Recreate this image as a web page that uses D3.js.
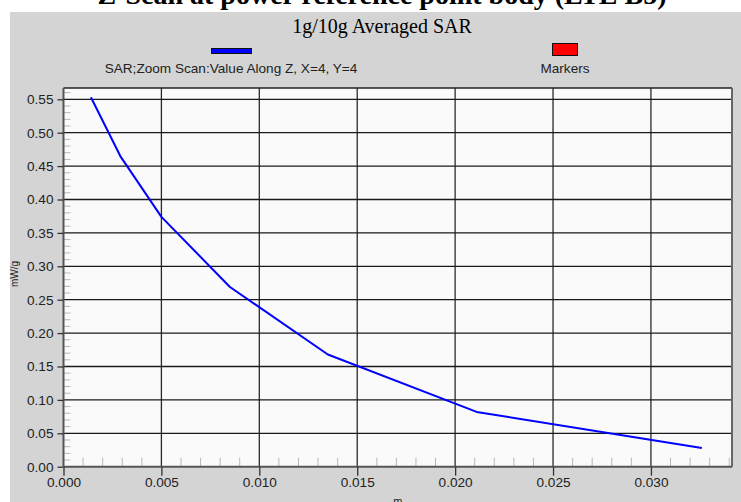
<!DOCTYPE html>
<html>
<head>
<meta charset="utf-8">
<script src="https://cdn.jsdelivr.net/npm/d3@7"></script>
<style>
  html, body { margin: 0; padding: 0; background: #ffffff; }
  svg { display: block; }
  text { font-family: "Liberation Sans", Arial, sans-serif; }
</style>
</head>
<body>
<svg id="chart" width="741" height="502"></svg>
<script>
// ---- data ----
const pageTitle = "Z-Scan at power reference point body (LTE B5)";
const chartTitle = "1g/10g Averaged SAR";
const seriesName = "SAR;Zoom Scan:Value Along Z, X=4, Y=4";
const markerName = "Markers";
const xLabel = "m";
const yLabel = "mW/g";
const zValues = [0.0014, 0.0029, 0.0050, 0.0085, 0.0135, 0.0211, 0.0326];
const sarValues = [0.553, 0.465, 0.374, 0.269, 0.168, 0.082, 0.028];
const xTicks = [0.000, 0.005, 0.010, 0.015, 0.020, 0.025, 0.030];
const yTicks = [0.00, 0.05, 0.10, 0.15, 0.20, 0.25, 0.30, 0.35, 0.40, 0.45, 0.50, 0.55];
const xMinorTicks = [0.001,0.002,0.003,0.004,0.006,0.007,0.008,0.009,0.011,0.012,0.013,0.014,0.016,0.017,0.018,0.019,0.021,0.022,0.023,0.024,0.026,0.027,0.028,0.029,0.031,0.032,0.033,0.034];
const yMinorTicks = [0.01,0.02,0.03,0.04,0.06,0.07,0.08,0.09,0.11,0.12,0.13,0.14,0.16,0.17,0.18,0.19,0.21,0.22,0.23,0.24,0.26,0.27,0.28,0.29,0.31,0.32,0.33,0.34,0.36,0.37,0.38,0.39,0.41,0.42,0.43,0.44,0.46,0.47,0.48,0.49,0.51,0.52,0.53,0.54,0.56];
const xDomain = [0, 0.03414];
const yDomain = [0, 0.5669];

// ---- layout ----
const svg = d3.select("#chart");
const L = 63.5, T = 88, R = 732, B = 466.7;
const x = d3.scaleLinear().domain(xDomain).range([L, R]);
const y = d3.scaleLinear().domain(yDomain).range([B, T]);

// gray panel
svg.append("rect").attr("x", 10).attr("y", 12).attr("width", 741).attr("height", 500).attr("fill", "#d4d4d4");

// page title (cropped at top)
svg.append("text").attr("x", 382).attr("y", 4).attr("text-anchor", "middle")
  .style("font-family", "'Liberation Serif', 'Times New Roman', serif")
  .style("font-weight", "bold").style("font-size", "28px").attr("fill", "#000")
  .text(pageTitle);

// chart title
svg.append("text").attr("x", 382).attr("y", 33).attr("text-anchor", "middle")
  .style("font-family", "'Liberation Serif', 'Times New Roman', serif")
  .style("font-size", "20px").attr("fill", "#000")
  .text(chartTitle);

// legend
svg.append("rect").attr("x", 211.5).attr("y", 48.5).attr("width", 40).attr("height", 5)
  .attr("fill", "#0000ff").attr("stroke", "#111").attr("stroke-width", 1);
svg.append("text").attr("x", 231).attr("y", 72.5).attr("text-anchor", "middle")
  .style("font-size", "13.6px").attr("fill", "#222").text(seriesName);
svg.append("rect").attr("x", 552.5).attr("y", 43.5).attr("width", 25).attr("height", 12)
  .attr("fill", "#ff0000").attr("stroke", "#111").attr("stroke-width", 1);
svg.append("text").attr("x", 565).attr("y", 72.5).attr("text-anchor", "middle")
  .style("font-size", "13.6px").attr("fill", "#222").text(markerName);

// plot background
svg.append("rect").attr("x", L).attr("y", T).attr("width", R - L).attr("height", B - T)
  .attr("fill", "#fafafa");

// minor ticks (inside)
svg.append("g").selectAll("line").data(xMinorTicks).join("line")
  .attr("x1", d => x(d)).attr("x2", d => x(d)).attr("y1", B).attr("y2", B - 9)
  .attr("stroke", "#b8b8b8").attr("stroke-width", 1);
svg.append("g").selectAll("line").data(yMinorTicks).join("line")
  .attr("x1", L).attr("x2", L + 7).attr("y1", d => y(d)).attr("y2", d => y(d))
  .attr("stroke", "#b8b8b8").attr("stroke-width", 1);

// gridlines
svg.append("g").selectAll("line").data(xTicks.slice(1)).join("line")
  .attr("x1", d => x(d)).attr("x2", d => x(d)).attr("y1", T).attr("y2", B)
  .attr("stroke", "#2a2a2a").attr("stroke-width", 1.3);
svg.append("g").selectAll("line").data(yTicks.slice(1)).join("line")
  .attr("x1", L).attr("x2", R).attr("y1", d => y(d)).attr("y2", d => y(d))
  .attr("stroke", "#1a1a1a").attr("stroke-width", 1.3);

// plot border (top, right)
svg.append("line").attr("x1", L).attr("x2", R).attr("y1", T).attr("y2", T)
  .attr("stroke", "#222").attr("stroke-width", 1.5);
svg.append("line").attr("x1", R).attr("x2", R).attr("y1", T).attr("y2", B)
  .attr("stroke", "#666").attr("stroke-width", 2);

// data line
const line = d3.line().x((d, i) => x(zValues[i])).y(d => y(d));
svg.append("path").datum(sarValues).attr("d", line)
  .attr("fill", "none").attr("stroke", "#0000ff").attr("stroke-width", 2)
  .attr("stroke-linejoin", "round");

// axes
const xAxis = d3.axisBottom(x).tickValues(xTicks).tickFormat(d3.format(".3f")).tickSize(9).tickPadding(2);
const yAxis = d3.axisLeft(y).tickValues(yTicks).tickFormat(d3.format(".2f")).tickSize(6).tickPadding(4);
const gx = svg.append("g").attr("transform", `translate(0,${B})`).call(xAxis);
const gy = svg.append("g").attr("transform", `translate(${L},0)`).call(yAxis);
[gx, gy].forEach(g => {
  g.select(".domain").attr("stroke", "#555").attr("stroke-width", 2);
  g.selectAll(".tick line").attr("stroke", "#333").attr("stroke-width", 1.3);
  g.selectAll(".tick text").style("font-size", "13.6px")
    .style("font-family", "'Liberation Sans', Arial, sans-serif").attr("fill", "#222");
});
gx.select(".domain").attr("d", `M${L},0H${R}`);
gy.select(".domain").attr("d", `M0,${B}V${T}`);

// axis labels
svg.append("text").attr("transform", `translate(18,274) rotate(-90)`).attr("text-anchor", "middle")
  .style("font-size", "10px").attr("fill", "#222").text(yLabel);
svg.append("text").attr("x", (L + R) / 2).attr("y", 505).attr("text-anchor", "middle")
  .style("font-size", "11px").attr("fill", "#222").text(xLabel);
</script>
</body>
</html>
